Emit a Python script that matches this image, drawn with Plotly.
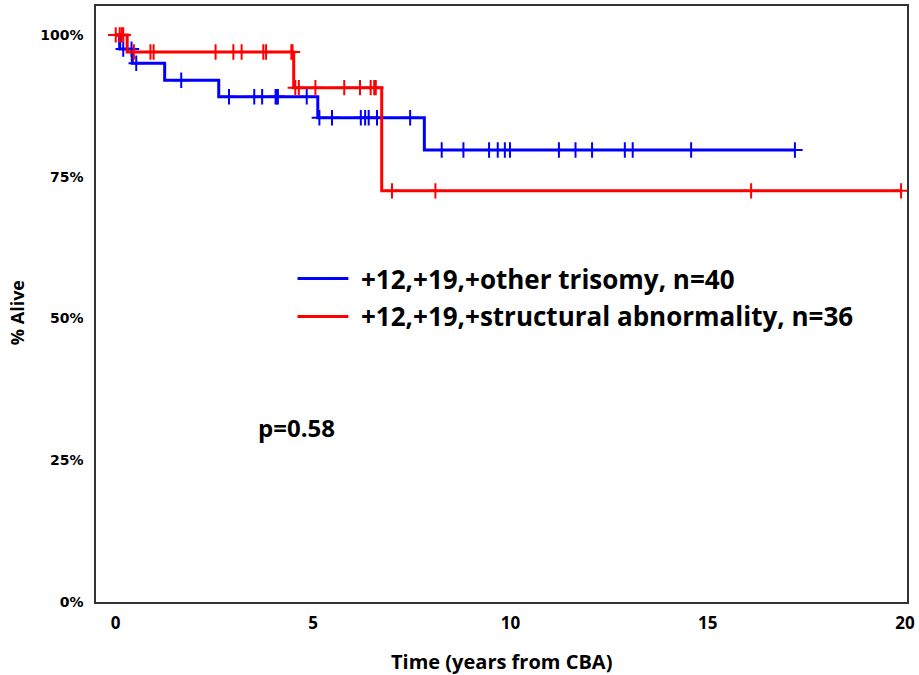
import plotly.graph_objects as go

# Kaplan-Meier curves: survival level after each event, censoring times, end of follow-up
blue_name = "+12,+19,+other trisomy, n=40"
blue_event_times = [0.10, 0.42, 1.24, 2.61, 5.12, 7.82]
blue_survival = [0.975, 0.950, 0.920, 0.891, 0.854, 0.797]
blue_censor_times = [0.19, 0.40, 0.52, 1.66, 2.87, 3.51, 3.71, 4.05, 4.08, 4.11,
                     4.84, 5.16, 5.48, 6.21, 6.32, 6.41, 6.62, 7.46, 8.26, 8.81,
                     9.46, 9.68, 9.86, 9.99, 11.23, 11.65, 12.07, 12.90, 13.10,
                     14.58, 17.21]
blue_end = 17.21

red_name = "+12,+19,+structural abnormality, n=36"
red_event_times = [0.29, 4.51, 6.74]
red_survival = [0.970, 0.907, 0.725]
red_censor_times = [0.00, 0.10, 0.15, 0.19, 0.46, 0.88, 0.96, 2.53, 2.98, 3.19,
                    3.74, 3.81, 4.45, 4.48, 4.55, 4.64, 5.06, 5.79, 6.19, 6.46,
                    6.55, 6.59, 7.00, 8.10, 16.10, 19.90]
red_end = 19.90

p_value_text = "p=0.58"
x_ticks = [0, 5, 10, 15, 20]
y_ticks = [0, 0.25, 0.5, 0.75, 1.0]
y_tick_labels = ["0%", "25%", "50%", "75%", "100%"]

BLUE = "#0000FF"
RED = "#FF0000"
TXT_FONT = "Open Sans"

W, H = 919, 675
L, R, T, B = 96, 10, 4, 73
PW, PH = W - L - R, H - T - B


def step_xy(times, surv, end):
    xs, ys = [0.0], [1.0]
    for t, s in zip(times, surv):
        xs.append(t)
        ys.append(s)
    xs.append(end)
    ys.append(surv[-1])
    return xs, ys


def level_at(t, times, surv):
    s = 1.0
    for et, es in zip(times, surv):
        if et <= t:
            s = es
    return s


def px_to_paper(px, py):
    return (px - L) / PW, (H - B - py) / PH


fig = go.Figure()

for times, surv, cens, end, color in [
    (blue_event_times, blue_survival, blue_censor_times, blue_end, BLUE),
    (red_event_times, red_survival, red_censor_times, red_end, RED),
]:
    xs, ys = step_xy(times, surv, end)
    fig.add_trace(go.Scatter(x=xs, y=ys, mode="lines", line_shape="hv",
                             line=dict(color=color, width=3),
                             showlegend=False, hoverinfo="skip"))
    fig.add_trace(go.Scatter(x=cens, y=[level_at(t, times, surv) for t in cens],
                             mode="markers",
                             marker=dict(symbol="cross-thin", size=11,
                                         line=dict(color=color, width=2)),
                             showlegend=False, hoverinfo="skip"))

# hand-placed legend: line samples + labels
for (name, color, py) in [(blue_name, BLUE, 277.5), (red_name, RED, 315.5)]:
    x0, y0 = px_to_paper(298, py)
    x1, _ = px_to_paper(349, py)
    fig.add_shape(type="line", xref="paper", yref="paper", x0=x0, x1=x1, y0=y0, y1=y0,
                  line=dict(color=color, width=3))
    tx, ty = px_to_paper(360, py)
    fig.add_annotation(xref="paper", yref="paper", x=tx, y=ty, text=name,
                       showarrow=False, xanchor="left", yanchor="middle",
                       font=dict(family=TXT_FONT, size=26, color="black", weight="bold"))

px_, py_ = px_to_paper(256, 427)
fig.add_annotation(xref="paper", yref="paper", x=px_, y=py_, text=p_value_text,
                   showarrow=False, xanchor="left", yanchor="middle",
                   font=dict(family=TXT_FONT, size=24, color="black", weight="bold"))

# axis titles
ax, ay = px_to_paper(17, 312)
fig.add_annotation(xref="paper", yref="paper", x=ax, y=ay, text="% Alive",
                   textangle=-90, showarrow=False, xanchor="center", yanchor="middle",
                   font=dict(family=TXT_FONT, size=18, color="black", weight="bold"))
bx, by = px_to_paper(503, 662)
fig.add_annotation(xref="paper", yref="paper", x=bx, y=by, text="Time (years from CBA)",
                   showarrow=False, xanchor="center", yanchor="middle",
                   font=dict(family=TXT_FONT, size=20, color="black", weight="bold"))

fig.update_layout(
    width=W, height=H,
    margin=dict(l=L, r=R, t=T, b=B),
    plot_bgcolor="white", paper_bgcolor="white",
    showlegend=False,
)
fig.update_xaxes(range=[-0.5, 20.05], tickvals=x_ticks, showgrid=False, zeroline=False,
                 showline=True, mirror=True, linecolor="#333333", linewidth=1.5,
                 ticks="", ticklabelstandoff=5,
                 tickfont=dict(family=TXT_FONT, size=17, color="black", weight="bold"))
fig.update_yaxes(range=[0, 1.051], tickvals=y_ticks, ticktext=y_tick_labels,
                 showgrid=False, zeroline=False,
                 showline=True, mirror=True, linecolor="#333333", linewidth=1.5,
                 ticks="", ticklabelstandoff=8,
                 tickfont=dict(family="DejaVu Sans", size=14, color="black", weight="bold"))

fig.write_html("out.html")
